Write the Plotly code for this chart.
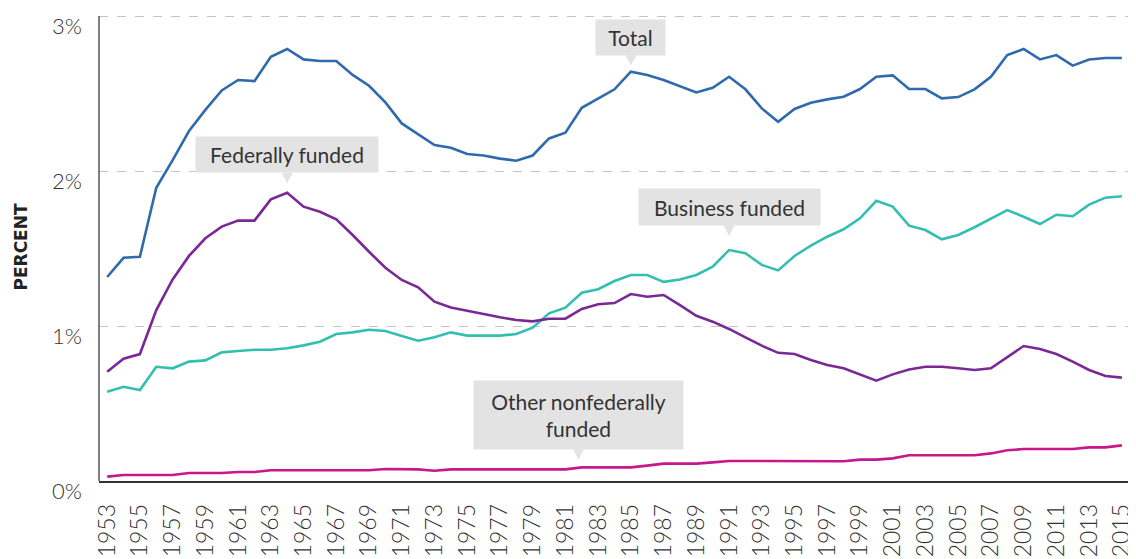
import plotly.graph_objects as go

years = list(range(1953, 2016))

total = [1.316, 1.44, 1.447, 1.892, 2.07, 2.258, 2.394, 2.52, 2.587, 2.58,
         2.737, 2.787, 2.72, 2.71, 2.71, 2.62, 2.55, 2.443,
         2.307, 2.236, 2.168, 2.15, 2.11, 2.10, 2.08, 2.066, 2.10, 2.21,
         2.247, 2.408, 2.469, 2.527, 2.641, 2.619, 2.587, 2.548, 2.507, 2.537,
         2.608, 2.527, 2.404, 2.318,
         2.40, 2.44, 2.462, 2.479, 2.529, 2.608, 2.617, 2.529, 2.529, 2.469,
         2.477, 2.527, 2.608, 2.748, 2.787, 2.72, 2.748, 2.68, 2.72, 2.729, 2.729]

business = [0.576, 0.608, 0.587, 0.737, 0.727, 0.77, 0.778, 0.83, 0.839, 0.847,
            0.847, 0.856, 0.875, 0.899, 0.948, 0.959, 0.976, 0.968,
            0.935, 0.905, 0.927, 0.959, 0.938, 0.938, 0.938, 0.948, 0.989, 1.082,
            1.118, 1.215, 1.237, 1.29, 1.329, 1.329, 1.285, 1.30, 1.329, 1.383,
            1.49, 1.469, 1.394, 1.359,
            1.452, 1.518, 1.576, 1.624, 1.695, 1.808, 1.77, 1.647, 1.619, 1.559,
            1.587, 1.637, 1.695, 1.748, 1.705, 1.658, 1.718, 1.708, 1.783, 1.828, 1.837]

federal = [0.705, 0.789, 0.819, 1.103, 1.30, 1.452, 1.566, 1.641, 1.68, 1.68,
           1.817, 1.86, 1.77, 1.737, 1.688, 1.587, 1.479, 1.376,
           1.297, 1.25, 1.157, 1.12, 1.099, 1.077, 1.056, 1.039, 1.03, 1.047,
           1.047, 1.11, 1.14, 1.148, 1.206, 1.189, 1.2, 1.135, 1.066, 1.028,
           0.981, 0.927, 0.873, 0.827,
           0.819, 0.781, 0.748, 0.727, 0.688, 0.647, 0.688, 0.72, 0.737, 0.737,
           0.727, 0.716, 0.727, 0.798, 0.871, 0.852, 0.819, 0.77, 0.716, 0.677, 0.667]

other = [0.028, 0.039, 0.039, 0.039, 0.039, 0.052, 0.052, 0.052, 0.058, 0.058,
         0.069, 0.069, 0.069, 0.069, 0.069, 0.069, 0.069, 0.077,
         0.075, 0.075, 0.066, 0.075, 0.075, 0.075, 0.075, 0.075, 0.075, 0.075,
         0.075, 0.088, 0.088, 0.088, 0.088, 0.099, 0.112, 0.112, 0.112, 0.12,
         0.129, 0.129, 0.129, 0.129,
         0.127, 0.127, 0.127, 0.127, 0.138, 0.138, 0.146, 0.166, 0.166, 0.166,
         0.166, 0.166, 0.178, 0.198, 0.206, 0.206, 0.206, 0.206, 0.217, 0.217, 0.23]

tick_years = list(range(1953, 2016, 2))
y_ticks = [0, 1, 2, 3]
y_tick_text = ["0%", "1%", "2%", "3%"]

series = [
    ("Total", total, "#2f6aac"),
    ("Business funded", business, "#33bfb0"),
    ("Federally funded", federal, "#7a2896"),
    ("Other nonfederally funded", other, "#c8168b"),
]

FONT = "Lato"
TEXT = "#333333"
BOX = "#e3e3e3"

fig = go.Figure()
for name, vals, col in series:
    fig.add_trace(go.Scatter(x=years, y=vals, mode="lines", name=name,
                             line=dict(color=col, width=2.6), hoverinfo="skip"))

# label boxes: (text, x-year, y-value, yshift to box bottom, tip gap, width, height)
labels = [
    ("Total", 1985, total[1985 - 1953], 16, 6.5, 69, 35),
    ("Federally funded", 1964, federal[1964 - 1953], 19.5, 9.5, 182, 35),
    ("Business funded", 1991, business[1991 - 1953], 24.5, 14, 181, 36),
    ("Other nonfederally<br>funded", 1981.8, 0.086, 18, 8, 209, 68),
]
for text, xv, yv, ysh, tip, w, h in labels:
    fig.add_annotation(x=xv, y=yv, xref="x", yref="y", text=text, showarrow=False,
                       xanchor="center", yanchor="bottom", yshift=ysh,
                       bgcolor=BOX, borderpad=0, width=w, height=h,
                       font=dict(family=FONT, size=21, color=TEXT))
    fig.add_shape(type="path", xref="x", yref="y", xsizemode="pixel", ysizemode="pixel",
                  xanchor=xv, yanchor=yv,
                  path=f"M -5.5,{ysh + 0.5} L 5.5,{ysh + 0.5} L 0,{tip} Z",
                  fillcolor=BOX, line=dict(width=0), layer="above")

# page body has an 8px margin, so the figure is drawn 8px in from the top-left
fig.update_layout(
    width=1128, height=551,
    margin=dict(l=91, r=6, t=5, b=78, autoexpand=False),
    paper_bgcolor="white", plot_bgcolor="white",
    showlegend=False,
    font=dict(family=FONT, color=TEXT),
)
fig.update_xaxes(
    range=[1952.5, 2015.5], tickmode="array", tickvals=tick_years,
    ticktext=[str(y) for y in tick_years], tickangle=-90,
    tickfont=dict(family=FONT, size=23, color=TEXT, weight=300),
    ticks="", ticklabelstandoff=12, automargin=False,
    showgrid=False, showline=True, linecolor="#333333", linewidth=1.5,
    zeroline=False,
)
fig.update_yaxes(
    range=[0, 3.0194], tickmode="array", tickvals=y_ticks, ticktext=y_tick_text,
    tickfont=dict(family=FONT, size=22, color=TEXT, weight=300),
    ticks="", ticklabelstandoff=16, ticklabelshift=10, automargin=False,
    showgrid=True, gridcolor="#c4c4c4", griddash="dash", gridwidth=1,
    showline=False, zeroline=False,
    title=dict(text="<b>PERCENT</b>", font=dict(family="DejaVu Sans", size=17, color="#222222"),
               standoff=20),
)
# vertical axis line spanning 0 to 3 (the reference's left axis stops at the 3% gridline)
fig.add_shape(type="line", xref="paper", yref="y", x0=0, x1=0, y0=0, y1=3,
              line=dict(color="#555555", width=1.5), layer="above")

fig.write_html("out.html")
